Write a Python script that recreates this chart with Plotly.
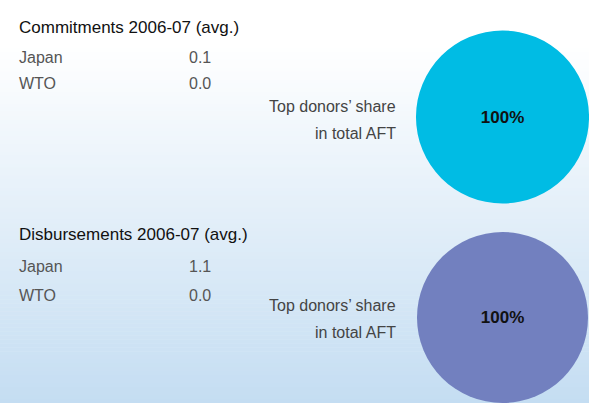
import plotly.graph_objects as go

# ---- data ----
donors = ["Japan", "WTO"]
commit_values = [0.1, 0.0]
disb_values = [1.1, 0.0]
commit_share = [100]
disb_share = [100]
share_labels = ["Top donors"]
titles = ["Commitments 2006-07 (avg.)", "Disbursements 2006-07 (avg.)"]

W, H = 589, 403
FONT = "Liberation Sans, Arial, sans-serif"


def px(x):
    return x / W


def py(y):
    return 1 - y / H


fig = go.Figure()

pie_specs = [
    (commit_share, "#00bce4", [416, 589], [30, 204]),
    (disb_share, "#7280bf", [416, 589], [232, 403]),
]
for vals, col, xr, yr in pie_specs:
    fig.add_trace(go.Pie(
        labels=share_labels, values=vals,
        marker=dict(colors=[col], line=dict(width=0)),
        domain=dict(x=[px(xr[0]), px(xr[1])], y=[py(yr[1]), py(yr[0])]),
        textinfo="percent", texttemplate="%{percent:.0%}",
        textposition="inside", insidetextorientation="horizontal",
        textfont=dict(family=FONT, size=17, color="#111111", weight="bold"),
        sort=False, showlegend=False, hoverinfo="label+percent",
    ))

# background gradient
shapes = []
n = 101
for i in range(n):
    y0 = i * H / n
    y1 = (i + 1) * H / n + 0.6
    yc = (y0 + y1) / 2
    t = max(0.0, (yc - 45) / (H - 45))
    r = round(255 + (196 - 255) * t)
    g = round(255 + (221 - 255) * t)
    b = round(255 + (242 - 255) * t)
    shapes.append(dict(type="rect", xref="paper", yref="paper",
                       x0=0, x1=1, y0=py(y1), y1=py(y0),
                       fillcolor=f"rgb({r},{g},{b})", line=dict(width=0),
                       layer="below"))

annotations = []
blocks = [
    (titles[0], commit_values, 28, 57, 84, 106, 133),
    (titles[1], disb_values, 234, 266, 295, 305, 332),
]
for title, vals, ty, y1, y2, s1, s2 in blocks:
    annotations.append(dict(text=title, x=px(17), y=py(ty), xref="paper", yref="paper",
                            xanchor="left", yanchor="middle", showarrow=False,
                            font=dict(family=FONT, size=17, color="#111111")))
    for name, v, yy in zip(donors, vals, [y1, y2]):
        annotations.append(dict(text=name, x=px(17), y=py(yy), xref="paper", yref="paper",
                                xanchor="left", yanchor="middle", showarrow=False,
                                font=dict(family=FONT, size=16, color="#555555")))
        annotations.append(dict(text=f"{v:.1f}", x=px(187), y=py(yy), xref="paper", yref="paper",
                                xanchor="left", yanchor="middle", showarrow=False,
                                font=dict(family=FONT, size=16, color="#555555")))
    annotations.append(dict(text="Top donors’ share", x=px(398), y=py(s1), xref="paper", yref="paper",
                            xanchor="right", yanchor="middle", showarrow=False,
                            font=dict(family=FONT, size=16, color="#444444")))
    annotations.append(dict(text="in total AFT", x=px(398), y=py(s2), xref="paper", yref="paper",
                            xanchor="right", yanchor="middle", showarrow=False,
                            font=dict(family=FONT, size=16, color="#444444")))

fig.update_layout(
    width=W, height=H, margin=dict(l=0, r=0, t=0, b=0),
    paper_bgcolor="white", plot_bgcolor="white",
    shapes=shapes, annotations=annotations, showlegend=False,
)

fig.write_html("out.html", config={"displayModeBar": False},
               post_script="document.body.style.margin='0';document.body.style.padding='0';")
